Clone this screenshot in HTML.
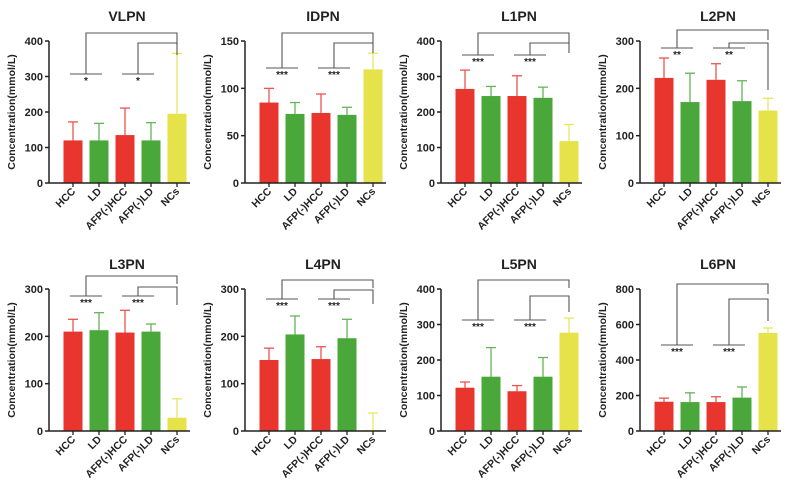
<!DOCTYPE html>
<html><head><meta charset="utf-8"><style>
body{margin:0;background:#fff;width:798px;height:494px;overflow:hidden}
svg{display:block}
text{font-family:"Liberation Sans",Arial,sans-serif;font-weight:bold;fill:#222}
</style></head><body>
<svg id="chart" width="798" height="494"></svg>
<script>
const categories=["HCC","LD","AFP(-)HCC","AFP(-)LD","NCs"];
const colors=["#e8362f","#4aa83b","#e8362f","#4aa83b","#e6e24a"];
const panelTitles=["VLPN","IDPN","L1PN","L2PN","L3PN","L4PN","L5PN","L6PN"];
const panelMax=[400,150,400,300,300,300,400,800];
const panelStep=[100,50,100,100,100,100,100,200];
const meanVLPN=[120,120,135,120,195], errVLPN=[172,168,211,170,365];
const meanIDPN=[85,73,74,72,120], errIDPN=[100,85,94,80,137];
const meanL1PN=[265,245,245,240,118], errL1PN=[318,272,302,270,165];
const meanL2PN=[222,171,218,173,153], errL2PN=[264,232,252,216,179];
const meanL3PN=[210,213,208,210,28], errL3PN=[236,250,255,226,68];
const meanL4PN=[150,204,152,196,2], errL4PN=[175,243,178,236,38];
const meanL5PN=[122,153,112,153,277], errL5PN=[138,235,128,207,318];
const meanL6PN=[165,163,163,188,553], errL6PN=[185,215,193,248,580];
const means=[meanVLPN,meanIDPN,meanL1PN,meanL2PN,meanL3PN,meanL4PN,meanL5PN,meanL6PN];
const errs=[errVLPN,errIDPN,errL1PN,errL2PN,errL3PN,errL4PN,errL5PN,errL6PN];
const stars=["*","***","***","**","***","***","***","***"];
// bracket geometry (px offsets from plot top): outer, inner, pair, outerEnd, innerEnd
const brackets=[[-8,2,33,6,6],[-8,2,27,4,4],[-8,2,14,4,4],[-11,2,7,4,41],[-13,-2,7,2,12],[-9,1,10,2,8],[-9,7,31,2,10],[-5,10,56,4,16]];
const NS="http://www.w3.org/2000/svg";
const svg=document.getElementById("chart");
function mk(tag,attrs,parent){const e=document.createElementNS(NS,tag);for(const k in attrs)e.setAttribute(k,attrs[k]);(parent||svg).appendChild(e);return e;}
const px=[49,245,441,640], py=[41,289], H=142, W=141;
panelTitles.forEach((t,p)=>{
  const ax=px[p%4], top=py[Math.floor(p/4)], bot=top+H;
  const g=mk("g",{});
  
  
  const y=v=>bot-v/panelMax[p]*H;
  const x=i=>ax+24+i*26;
  const tt=mk("text",{x:ax+78,y:top-20,"text-anchor":"middle","font-size":"14"},g);tt.textContent=t;
  
  
  const yt=mk("text",{transform:`translate(${ax-34},${top+H/2}) rotate(-90)`,"text-anchor":"middle","font-size":"10.5"},g);yt.textContent="Concentration(mmol/L)";
  
  
  means[p].forEach((m,i)=>{
    const c=colors[i];
    const eb=mk("g",{stroke:c,"stroke-width":"1.3",opacity:"0.85"},g);
    
    
    mk("line",{x1:x(i),x2:x(i),y1:y(m),y2:y(errs[p][i])},eb);
    mk("line",{x1:x(i)-5,x2:x(i)+5,y1:y(errs[p][i]),y2:y(errs[p][i])},eb);
    const r=mk("rect",{x:x(i)-9.5,y:y(m),width:19,height:bot-y(m),fill:c},g);
    
    
  });
  mk("line",{x1:ax,x2:ax,y1:top,y2:bot,stroke:"#222","stroke-width":"1.5"},g);
  mk("line",{x1:ax,x2:ax+W,y1:bot,y2:bot,stroke:"#222","stroke-width":"1.5"},g);
  for(let v=0;v<=panelMax[p];v+=panelStep[p]){
    mk("line",{x1:ax-4,x2:ax,y1:y(v),y2:y(v),stroke:"#222","stroke-width":"1.5"},g);
    const tl=mk("text",{x:ax-6,y:y(v)+4,"text-anchor":"end","font-size":"11"},g);tl.textContent=v;
    
    
  }
  categories.forEach((c,i)=>{
    mk("line",{x1:x(i),x2:x(i),y1:bot,y2:bot+4,stroke:"#222","stroke-width":"1.3"},g);
    const xl=mk("text",{transform:`translate(${x(i)+3},${bot+9}) rotate(-45)`,"text-anchor":"end","font-size":"10.5"},g);xl.textContent=c;
    
    
  });
  const b=brackets[p];
  const sg=mk("g",{stroke:"#555","stroke-width":"1.1",fill:"none"},g);
  
  
  const c1=(x(0)+x(1))/2, c2=(x(2)+x(3))/2, xn=x(4);
  mk("polyline",{points:`${c1},${top+b[2]} ${c1},${top+b[0]} ${xn},${top+b[0]} ${xn},${top+b[0]+b[3]+6}`},sg);
  mk("polyline",{points:`${c2},${top+b[2]} ${c2},${top+b[1]} ${xn},${top+b[1]} ${xn},${top+b[1]+b[4]+6}`},sg);
  [[x(0),x(1),c1],[x(2),x(3),c2]].forEach(([a,bb,cc])=>{
    mk("line",{x1:a-3,x2:bb+3,y1:top+b[2],y2:top+b[2]},sg);
    const st=mk("text",{x:cc,y:top+b[2]+10,"text-anchor":"middle","font-size":"10","font-weight":"normal"},g);st.textContent=stars[p];
    
    
  });
});
</script>
</body></html>
